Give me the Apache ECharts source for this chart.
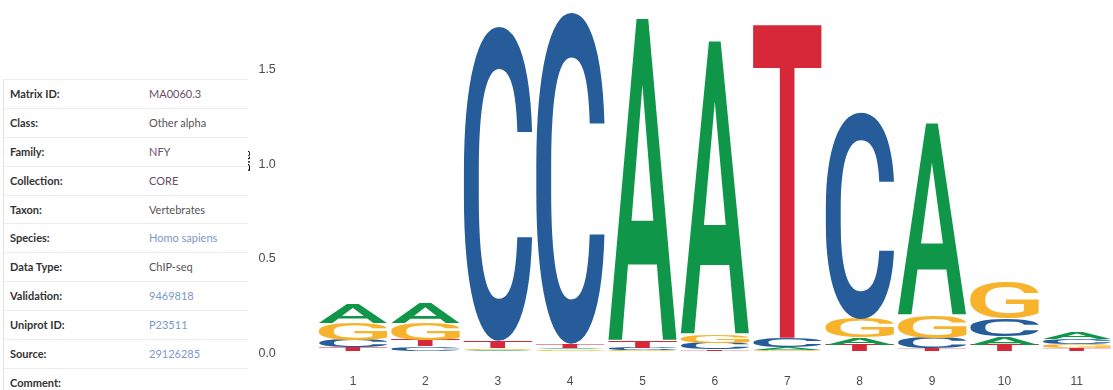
<!DOCTYPE html>
<html>
<head>
<meta charset="utf-8">
<script src="https://cdn.jsdelivr.net/npm/echarts@6/dist/echarts.min.js"></script>
<style>
  html, body { margin: 0; padding: 0; background: #fff; }
  #wrap { position: relative; width: 1113px; height: 390px; overflow: hidden; }
  #chart { position: absolute; left: 0; top: 0; width: 1113px; height: 390px; }
  #info {
    position: absolute; left: 3px; top: 79px; width: 244px; height: 320px;
    background: #fff; z-index: 2; border-left: 1px solid #e4e4e4;
    font-family: Lato, "Noto Sans", sans-serif; font-size: 11px;
  }
  #info .row { position: relative; height: 27.9px; border-top: 1px solid #ececec; }
  #info .k { position: absolute; left: 6px; top: 0; line-height: 27.9px; font-weight: 700; color: #333; }
  #info .v { position: absolute; left: 145px; top: 0; line-height: 27.9px; color: #555; }
  #info .v.link { color: #7b98c9; }
  #info .v.id { color: #6a4f66; }
</style>
</head>
<body>
<div id="wrap">
  <div id="chart"></div>
  <div id="info"></div>
</div>
<script>
// Motif metadata shown beside the logo
const infoLabels = ['Matrix ID:', 'Class:', 'Family:', 'Collection:', 'Taxon:', 'Species:',
                    'Data Type:', 'Validation:', 'Uniprot ID:', 'Source:', 'Comment:'];
const infoValues = ['MA0060.3', 'Other alpha', 'NFY', 'CORE', 'Vertebrates', 'Homo sapiens',
                    'ChIP-seq', '9469818', 'P23511', '29126285', ''];
const infoKinds  = ['id', '', 'id', 'id', '', 'link', '', 'link', 'link', 'link', ''];

// Sequence logo: information content (bits) of each base at each position
const positions = ['1', '2', '3', '4', '5', '6', '7', '8', '9', '10', '11'];
const bitsA = [0.098, 0.105, 0.006, 0.010, 1.715, 1.560, 0.016, 0.037, 1.021, 0.042, 0.033];
const bitsC = [0.040, 0.024, 1.668, 1.757, 0.012, 0.034, 0.050, 1.096, 0.055, 0.095, 0.030];
const bitsG = [0.090, 0.093, 0.010, 0.008, 0.004, 0.041, 0.004, 0.098, 0.119, 0.193, 0.018];
const bitsT = [0.018, 0.032, 0.037, 0.020, 0.032, 0.008, 1.660, 0.034, 0.013, 0.034, 0.016];
const yTicks = [0, 0.5, 1.0, 1.5];
const yTitle = 'Bits';

const bases = ['A', 'C', 'G', 'T'];
const baseColors = { A: '#109648', C: '#255C99', G: '#F7B32B', T: '#D62839' };

// build the info table
const info = document.getElementById('info');
infoLabels.forEach((lab, i) => {
  const row = document.createElement('div');
  row.className = 'row';
  const k = document.createElement('span'); k.className = 'k'; k.textContent = lab;
  const v = document.createElement('span'); v.className = 'v ' + infoKinds[i]; v.textContent = infoValues[i];
  row.appendChild(k); row.appendChild(v);
  info.appendChild(row);
});

// ink box of each glyph, used to stretch letters to their stack height
const GLYPH_FONT = '500 200px Roboto';
function glyphMetrics() {
  const ctx = document.createElement('canvas').getContext('2d');
  ctx.font = GLYPH_FONT;
  ctx.textBaseline = 'middle';
  ctx.textAlign = 'left';
  const m = {};
  bases.forEach(b => {
    const t = ctx.measureText(b);
    m[b] = { l: t.actualBoundingBoxLeft, r: t.actualBoundingBoxRight,
             a: t.actualBoundingBoxAscent, d: t.actualBoundingBoxDescent };
  });
  return m;
}

function draw() {
  const metrics = glyphMetrics();
  const byBase = { A: bitsA, C: bitsC, G: bitsG, T: bitsT };

  // stack letters per position, smallest at the bottom
  const stacked = [];
  positions.forEach((p, i) => {
    const order = bases.slice().sort((a, b) => byBase[a][i] - byBase[b][i]);
    let base = 0;
    order.forEach(b => {
      const h = byBase[b][i];
      stacked.push([i, base, base + h, bases.indexOf(b)]);
      base += h;
    });
  });

  const chart = echarts.init(document.getElementById('chart'), null, { renderer: 'canvas' });
  chart.setOption({
    animation: false,
    backgroundColor: 'transparent',
    grid: { left: 316.8, right: -6.1, top: 0, bottom: 39 },
    // y-axis title, rotated to read bottom-to-top
    graphic: [{
      type: 'text',
      x: 246.4,
      y: 161,
      rotation: Math.PI / 2,
      silent: true,
      style: {
        text: yTitle,
        fill: '#000',
        font: '13px "Liberation Sans", Arial, sans-serif',
        align: 'center',
        verticalAlign: 'middle'
      }
    }],
    xAxis: {
      type: 'category',
      data: positions,
      axisLine: { show: false },
      axisTick: { show: false },
      splitLine: { show: false },
      axisLabel: { margin: 25, color: '#4d4d4d', fontSize: 12, fontFamily: '"Liberation Sans", Arial, sans-serif' }
    },
    yAxis: {
      type: 'value',
      min: 0,
      max: 1.854,
      interval: 0.5,
      axisLine: { show: false },
      axisTick: { show: false },
      splitLine: { show: false },
      axisLabel: {
        margin: 41, color: '#4d4d4d', fontSize: 12.5, fontFamily: '"Liberation Sans", Arial, sans-serif',
        showMaxLabel: false,
        verticalAlign: 'top',
        lineHeight: 5,
        formatter: v => (yTicks.indexOf(v) >= 0 ? v.toFixed(1) : '')
      }
    },
    series: [{
      type: 'custom',
      clip: false,
      silent: true,
      data: stacked,
      encode: { x: 0, y: [1, 2] },
      renderItem: function (params, api) {
        const xi = api.value(0);
        const y0 = api.value(1);
        const y1 = api.value(2);
        const letter = bases[api.value(3)];
        const bottom = api.coord([xi, y0]);
        const top = api.coord([xi, y1]);
        const band = api.size([1, 0])[0];
        const w = band * 0.95;
        const h = bottom[1] - top[1];
        if (h <= 0.05) return null;
        const m = metrics[letter];
        const sx = w / (m.l + m.r);
        const sy = h / (m.a + m.d);
        return {
          type: 'text',
          x: bottom[0] - w / 2 + m.l * sx,
          y: top[1] + m.a * sy,
          scaleX: sx,
          scaleY: sy,
          style: {
            text: letter,
            font: GLYPH_FONT,
            fill: baseColors[letter],
            align: 'left',
            verticalAlign: 'middle'
          }
        };
      }
    }]
  });
}

if (document.fonts && document.fonts.load) {
  document.fonts.load(GLYPH_FONT).then(draw, draw);
} else {
  draw();
}
</script>
</body>
</html>
